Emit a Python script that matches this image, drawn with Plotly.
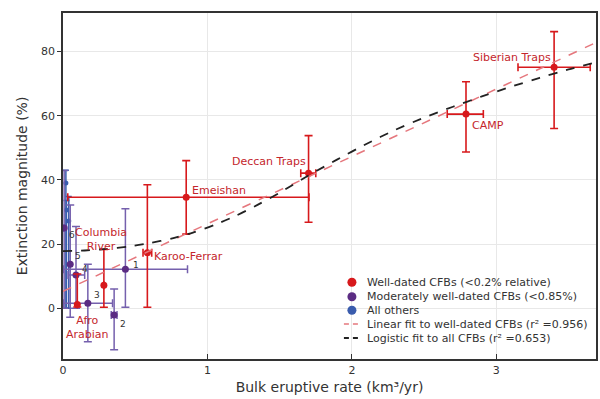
import plotly.graph_objects as go

# ---- data ----
well_names = ["Siberian Traps", "CAMP", "Deccan Traps", "Emeishan", "Karoo-Ferrar", "Columbia<br>River", "Afro<br>Arabian"]
well_x = [3.40, 2.79, 1.70, 0.853, 0.584, 0.283, 0.099]
well_y = [75.1, 60.5, 42.1, 34.6, 17.3, 7.2, 1.2]
well_y_plus = [11.1, 10.1, 11.7, 11.4, 21.2, 11.1, 9.5]
well_y_minus = [19.1, 11.8, 15.3, 11.5, 17.0, 6.9, 0.8]
well_x_plus = [0.25, 0.12, 0.05, 0.85, 0.03, 0.0, 0.0]
well_x_minus = [0.25, 0.13, 0.054, 0.82, 0.03, 0.0, 0.0]

mod_names = ["1", "2", "3", "4", "5", "6"]
mod_x = [0.432, 0.354, 0.172, 0.090, 0.050, 0.008]
mod_y = [12.2, -2.1, 1.6, 10.4, 13.7, 25.0]
mod_y_plus = [18.8, 8.1, 12.1, 15.1, 18.5, 17.9]
mod_y_minus = [11.9, 10.8, 12.0, 10.4, 16.5, 25.0]
mod_x_plus = [0.43, 0.02, 0.171, 0.06, 0.0, 0.0]
mod_x_minus = [0.43, 0.02, 0.17, 0.055, 0.0, 0.0]

oth_x = [0.020, 0.024, 0.040]
oth_y = [39.0, 30.6, 27.2]
oth_y_plus = [4.0, 3.0, 7.6]
oth_y_minus = [39.0, 30.6, 27.2]

lin_x = [0.0, 3.69]
lin_y = [5.3, 82.8]

log_x = [0.0, 0.15, 0.3, 0.45, 0.6, 0.75, 0.9, 1.05, 1.2, 1.35, 1.5, 1.7, 1.9, 2.1, 2.3,
         2.5, 2.7, 2.9, 3.1, 3.3, 3.5, 3.69]
log_y = [17.8, 18.0, 18.5, 19.2, 20.3, 21.7, 23.6, 26.0, 28.9, 32.3, 36.0, 41.4, 46.4, 51.2, 55.6,
         59.4, 62.8, 66.0, 69.0, 71.8, 74.4, 76.6]

x_ticks = [0, 1, 2, 3]
y_ticks = [0, 20, 40, 60, 80]

legend_labels = ["Well-dated CFBs (<0.2% relative)", "Moderately well-dated CFBs (<0.85%)", "All others",
                 "Linear fit to well-dated CFBs (r² =0.956)", "Logistic fit to all CFBs (r² =0.653)"]

# ---- styles ----
RED = "#d7191c"
RED_TXT = "#c4262c"
PURPLE = "#5b2c83"
PURPLE_ERR = "#7560ad"
BLUE = "#3a5cad"
PINK = "#e5777d"
BLACK = "#222222"
FONT = "DejaVu Sans"

fig = go.Figure()

fig.add_trace(go.Scatter(
    x=oth_x, y=oth_y, mode="markers", name="All others",
    marker=dict(color=BLUE, size=5),
    error_y=dict(type="data", array=oth_y_plus, arrayminus=oth_y_minus, color=BLUE, thickness=1.5, width=3),
))
fig.add_trace(go.Scatter(
    x=mod_x, y=mod_y, mode="markers", name=legend_labels[1],
    marker=dict(color=PURPLE, size=7),
    error_y=dict(type="data", array=mod_y_plus, arrayminus=mod_y_minus, color=PURPLE_ERR, thickness=1.5, width=4),
    error_x=dict(type="data", array=mod_x_plus, arrayminus=mod_x_minus, color=PURPLE_ERR, thickness=1.5, width=4),
))
fig.add_trace(go.Scatter(
    x=well_x, y=well_y, mode="markers", name=legend_labels[0],
    marker=dict(color=RED, size=7),
    error_y=dict(type="data", array=well_y_plus, arrayminus=well_y_minus, color=RED, thickness=1.6, width=4),
    error_x=dict(type="data", array=well_x_plus, arrayminus=well_x_minus, color=RED, thickness=1.6, width=4),
))
fig.add_trace(go.Scatter(
    x=lin_x, y=lin_y, mode="lines", name=legend_labels[3],
    line=dict(color=PINK, width=1.5, dash="dash"),
))
fig.add_trace(go.Scatter(
    x=log_x, y=log_y, mode="lines", name=legend_labels[4],
    line=dict(color=BLACK, width=1.8, dash="dash", shape="spline", smoothing=0.6),
))

# labels for well-dated CFBs (pixel offsets from each point)
well_offsets = [(-42, 10, "center"), (4, -11, "left"), (-40, 12, "center"), (4, 7, "left"),
                (5, -4, "left"), (-3, 46, "center"), (-13, -23, "left")]
for nm, xx, yy, (dx, dy, anc) in zip(well_names, well_x, well_y, well_offsets):
    fig.add_annotation(x=xx, y=yy, text=nm, showarrow=False, xshift=dx, yshift=dy, xanchor=anc,
                       font=dict(family=FONT, size=11, color=RED_TXT), align="center")

mod_offsets = [(6, 4), (4, -9), (4, 8), (4, 6), (3, 8), (3, -7)]
for nm, xx, yy, (dx, dy) in zip(mod_names, mod_x, mod_y, mod_offsets):
    fig.add_annotation(x=xx, y=yy, text=nm, showarrow=False, xshift=dx, yshift=dy, xanchor="left",
                       font=dict(family=FONT, size=9, color="#333333"))

# ---- hand-built compact legend (paper coordinates) ----
L_X = (353 - 63) / 535.0          # icon centre
row_y = [(359 - py) / 346.0 for py in (282.3, 296.7, 310.3, 324.0, 338.0)]
icon_cols = [RED, PURPLE, BLUE]
for i, lab in enumerate(legend_labels):
    yy = row_y[i]
    if i < 3:
        fig.add_shape(type="circle", xref="paper", yref="paper", xsizemode="pixel", ysizemode="pixel",
                      xanchor=L_X, yanchor=yy, x0=-4.5, x1=4.5, y0=-4.5, y1=4.5,
                      fillcolor=icon_cols[i], line=dict(width=0))
    else:
        col = PINK if i == 3 else BLACK
        for a, b in ((-8, -3), (1, 6)):
            fig.add_shape(type="line", xref="paper", yref="paper", xsizemode="pixel", ysizemode="pixel",
                          xanchor=L_X, yanchor=yy, x0=a, x1=b, y0=0, y1=0,
                          line=dict(color=col, width=2 if i == 4 else 1.5))
    fig.add_annotation(x=L_X, y=yy, xref="paper", yref="paper", text=lab, showarrow=False,
                       xanchor="left", yanchor="middle", xshift=13,
                       font=dict(family=FONT, size=11, color="#333333"))

fig.update_layout(
    width=600, height=399,
    margin=dict(l=63, r=2, t=13, b=40),
    paper_bgcolor="white", plot_bgcolor="white",
    font=dict(family=FONT, size=11, color="#333333"),
    showlegend=False,
)
fig.update_xaxes(
    range=[0, 3.69], tickvals=x_ticks, ticktext=[str(v) for v in x_ticks],
    showgrid=True, gridcolor="#e8e8e8", gridwidth=1, zeroline=False,
    showline=True, linecolor="#333333", linewidth=1.5, mirror=True,
    ticks="inside", ticklen=5, tickcolor="#333333",
    title=dict(text="Bulk eruptive rate (km³/yr)", font=dict(family=FONT, size=14, color="#333333"), standoff=6),
    tickfont=dict(family=FONT, size=11, color="#333333"),
)
fig.update_yaxes(
    range=[-15.8, 92], tickvals=y_ticks, ticktext=[str(v) for v in y_ticks],
    showgrid=True, gridcolor="#e8e8e8", gridwidth=1, zeroline=False,
    showline=True, linecolor="#333333", linewidth=1.5, mirror=True,
    ticks="outside", ticklen=4, tickcolor="#333333",
    title=dict(text="Extinction magnitude (%)", font=dict(family=FONT, size=14, color="#333333"), standoff=10),
    tickfont=dict(family=FONT, size=11, color="#333333"),
)

fig.write_html("out.html", config={"displayModeBar": False},
               post_script="document.body.style.margin='0';document.body.style.padding='0';"
                           "document.body.style.overflow='hidden';")
